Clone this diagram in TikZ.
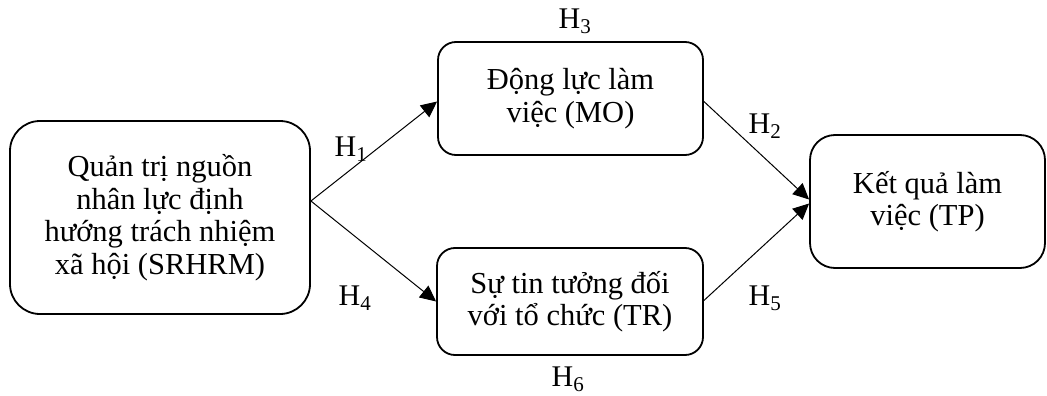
\documentclass[tikz,border=0pt]{standalone}
\usepackage{fontspec}
\setmainfont{Liberation Serif}
\usetikzlibrary{arrows.meta}
\begin{document}
\begin{tikzpicture}[x=1pt,y=-1pt,
  box/.style={draw, line width=1.8pt, align=center, inner sep=0pt,
    font=\fontsize{30.5}{32.5}\selectfont},
  conn/.style={line width=1pt, -{Triangle[length=16pt,width=15pt]}},
  hlab/.style={font=\fontsize{30}{32}\selectfont, inner sep=0pt}]
\useasboundingbox (0,0) rectangle (1047,396);
\node[box, rounded corners=30pt, minimum width=300pt, minimum height=193pt] (sr) at (160,217.5)
  {Quản trị nguồn\\nhân lực định\\hướng trách nhiệm\\xã hội (SRHRM)};
\node[box, rounded corners=18pt, minimum width=265pt, minimum height=113pt] (mo) at (570.5,98.5)
  {Động lực làm\\việc (MO)};
\node[box, rounded corners=18pt, minimum width=266pt, minimum height=107pt] (tr) at (570,301.5)
  {Sự tin tưởng đối\\với tổ chức (TR)};
\node[box, rounded corners=25pt, minimum width=235pt, minimum height=133pt] (tp) at (927.5,201.5)
  {Kết quả làm\\việc (TP)};
\draw[conn] ([yshift=16.5pt]sr.east) -- ([yshift=-3pt]mo.west);
\draw[conn] ([yshift=16.5pt]sr.east) -- (tr.west);
\draw[conn] ([yshift=-3pt]mo.east) -- ([yshift=2pt]tp.west);
\draw[conn] ([yshift=1pt]tr.east) -- ([yshift=-2pt]tp.west);
\node[hlab] (h3) at (575,21) {H\textsubscript{3}};
\node[hlab] (h1) at (351,149) {H\textsubscript{1}};
\node[hlab] (h2) at (765,126) {H\textsubscript{2}};
\node[hlab] (h4) at (355,298) {H\textsubscript{4}};
\node[hlab] (h5) at (765,298) {H\textsubscript{5}};
\node[hlab] (h6) at (568,379) {H\textsubscript{6}};
\end{tikzpicture}
\end{document}
